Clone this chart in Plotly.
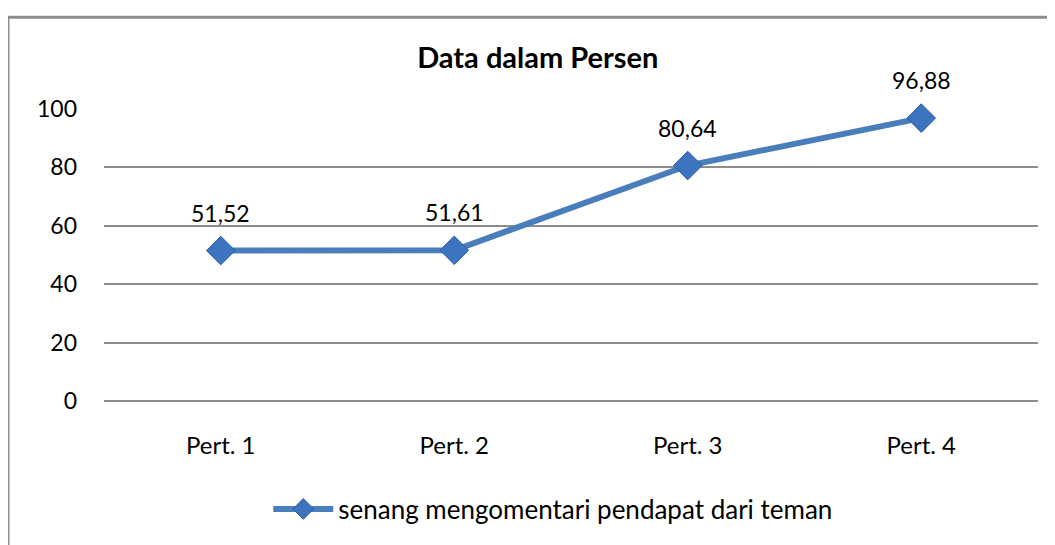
import plotly.graph_objects as go

categories = ["Pert. 1", "Pert. 2", "Pert. 3", "Pert. 4"]
values = [51.52, 51.61, 80.64, 96.88]
series_name = "senang mengomentari pendapat dari teman"
title_text = "Data dalam Persen"
y_ticks = [0, 20, 40, 60, 80, 100]

FONT = "Lato"
BLUE = "#4A7EBB"

fig = go.Figure()
fig.add_trace(go.Scatter(
    x=categories, y=values, name=series_name,
    mode="lines+markers",
    line=dict(color=BLUE, width=6),
    marker=dict(symbol="diamond", size=22, color="#3C74C0",
                line=dict(color="#2F5E9E", width=1)),
    cliponaxis=False,
))

for c, v in zip(categories, values):
    fig.add_annotation(x=c, y=v, text=f"{v:.2f}".replace(".", ","),
                       showarrow=False, yshift=38, yanchor="middle",
                       font=dict(family=FONT, size=23, color="#000000"))

fig.add_shape(type="rect", xref="paper", yref="paper",
              x0=-0.1028, x1=1.2, y0=-0.8, y1=1.314,
              line=dict(color="#8C8C8C", width=3), fillcolor="rgba(0,0,0,0)",
              layer="below")

fig.update_layout(
    width=1047, height=537,
    margin=dict(l=96, r=17, t=101, b=140),
    paper_bgcolor="white", plot_bgcolor="white",
    title=dict(text="<b>" + title_text + "</b>", x=0.506, xanchor="center",
               y=0.907, yanchor="middle",
               font=dict(family=FONT, size=29, color="#000000")),
    font=dict(family=FONT, size=23, color="#000000"),
    showlegend=True,
    legend=dict(orientation="h", x=0.481, xanchor="center", y=-0.37, yanchor="middle",
                font=dict(family=FONT, size=26, color="#000000"),
                itemwidth=60),
    xaxis=dict(type="category", categoryorder="array", categoryarray=categories,
               range=[-0.5, 3.5], showgrid=False, zeroline=False, showline=False,
               ticks="", ticklabelstandoff=28, tickfont=dict(size=24)),
    yaxis=dict(range=[0, 100], tickvals=y_ticks, showgrid=True,
               gridcolor="#8C8C8C", gridwidth=1.5, zeroline=True,
               zerolinecolor="#8C8C8C", zerolinewidth=1.5,
               showline=False, ticks="", ticklabelstandoff=26),
)

fig.write_html("out.html")
